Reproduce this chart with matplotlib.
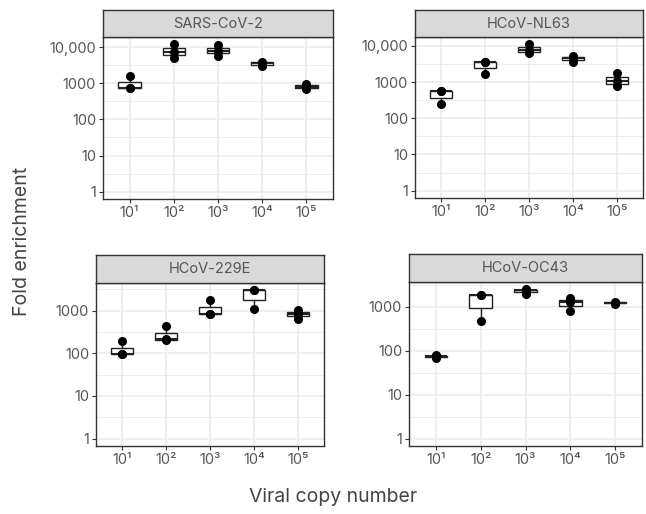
import numpy as np
import matplotlib
matplotlib.use("Agg")
import matplotlib.pyplot as plt
from matplotlib.ticker import FixedLocator, FixedFormatter, NullFormatter

plt.rcParams['font.family'] = ['Inter', 'DejaVu Sans']

# data (fold enrichment per replicate)
copies = ["10¹", "10²", "10³", "10⁴", "10⁵"]
panels = ["SARS-CoV-2", "HCoV-NL63", "HCoV-229E", "HCoV-OC43"]

sars = [[730, 740, 1560], [4900, 7200, 12000], [5800, 8000, 11500],
        [3000, 3600, 4000], [700, 800, 950]]
nl63 = [[240, 570, 580], [1700, 3500, 3600], [6200, 7500, 11000],
        [3600, 4600, 5200], [780, 1050, 1750]]
e229 = [[95, 97, 190], [210, 212, 430], [830, 850, 1750],
        [1100, 3000, 3000], [650, 800, 900, 1050]]
oc43 = [[68, 75, 80], [470, 1850, 1900], [2000, 2400, 2500],
        [820, 1300, 1600], [1150, 1250, 1300]]

datas = [sars, nl63, e229, oc43]

# panel boxes in pixels: left, right, top, bottom, strip top
W, H = 646, 514
boxes = [(103, 333, 37, 199, 10),
         (415, 643, 37, 198, 10),
         (96, 324, 283, 446, 255),
         (409, 642, 282, 446, 254)]

grey_txt = "#555555"
border = "#333333"

fig = plt.figure(figsize=(W / 100, H / 100), dpi=100)


def log_stats(vals):
    # ggplot computes the box on the log10 scale
    lv = np.log10(vals)
    q1, med, q3 = np.percentile(lv, [25, 50, 75])
    iqr = q3 - q1
    lo = lv[lv >= q1 - 1.5 * iqr].min()
    hi = lv[lv <= q3 + 1.5 * iqr].max()
    return dict(med=10**med, q1=10**q1, q3=10**q3, whislo=10**lo, whishi=10**hi, fliers=[])


for name, data, (l, r, t, b, st) in zip(panels, datas, boxes):
    ax = fig.add_axes([l / W, 1 - b / H, (r - l) / W, (b - t) / H])
    sax = fig.add_axes([l / W, 1 - t / H, (r - l) / W, (t - st) / H])

    pos = np.arange(1, len(copies) + 1)
    stats = [log_stats(np.array(v, float)) for v in data]
    ax.bxp(stats, positions=pos, widths=0.5, patch_artist=True, showcaps=False,
           showfliers=False,
           boxprops=dict(facecolor="white", edgecolor="#222222", linewidth=1.0),
           whiskerprops=dict(color="#222222", linewidth=1.0),
           medianprops=dict(color="#222222", linewidth=1.5), zorder=3)
    for p, v in zip(pos, data):
        ax.plot([p] * len(v), v, "o", color="black", markersize=5.5, zorder=4)

    ax.set_yscale("log")
    top = np.log10(max(max(v) for v in data))
    pad = 0.05 * top
    ax.set_ylim(10**(-pad), 10**(top + pad))
    ax.set_xlim(0.4, len(copies) + 0.6)

    nmaj = int(np.floor(top + pad)) + 1
    majors = [10**k for k in range(nmaj)]
    labels = ["10,000" if m == 10000 else str(m) for m in majors]
    ax.yaxis.set_major_locator(FixedLocator(majors))
    ax.yaxis.set_major_formatter(FixedFormatter(labels))
    ax.yaxis.set_minor_locator(FixedLocator([10**(k + 0.5) for k in range(nmaj)]))
    ax.yaxis.set_minor_formatter(NullFormatter())
    ax.set_xticks(pos)
    ax.set_xticklabels(copies)

    ax.grid(True, which="major", color="#EBEBEB", linewidth=1.1, zorder=0)
    ax.grid(True, which="minor", axis="y", color="#EBEBEB", linewidth=0.6, zorder=0)
    ax.set_axisbelow(True)
    ax.tick_params(which="major", length=3, width=0.8, color=border,
                   labelsize=10.5, labelcolor=grey_txt, pad=2)
    ax.tick_params(which="minor", length=0)
    for s in ax.spines.values():
        s.set_color(border)
        s.set_linewidth(1.0)

    sax.set_facecolor("#D9D9D9")
    sax.set_xticks([])
    sax.set_yticks([])
    for s in sax.spines.values():
        s.set_color(border)
        s.set_linewidth(1.0)
    sax.text(0.5, 0.5, name, ha="center", va="center", fontsize=10.5,
             color="#555555", transform=sax.transAxes)

fig.text(22 / W, 1 - 241 / H, "Fold enrichment", rotation=90, ha="center",
         va="center", fontsize=14, color="#444444")
fig.text(333 / W, 1 - 497 / H, "Viral copy number", ha="center", va="center",
         fontsize=14, color="#444444")

fig.savefig("out.png", dpi=100)
